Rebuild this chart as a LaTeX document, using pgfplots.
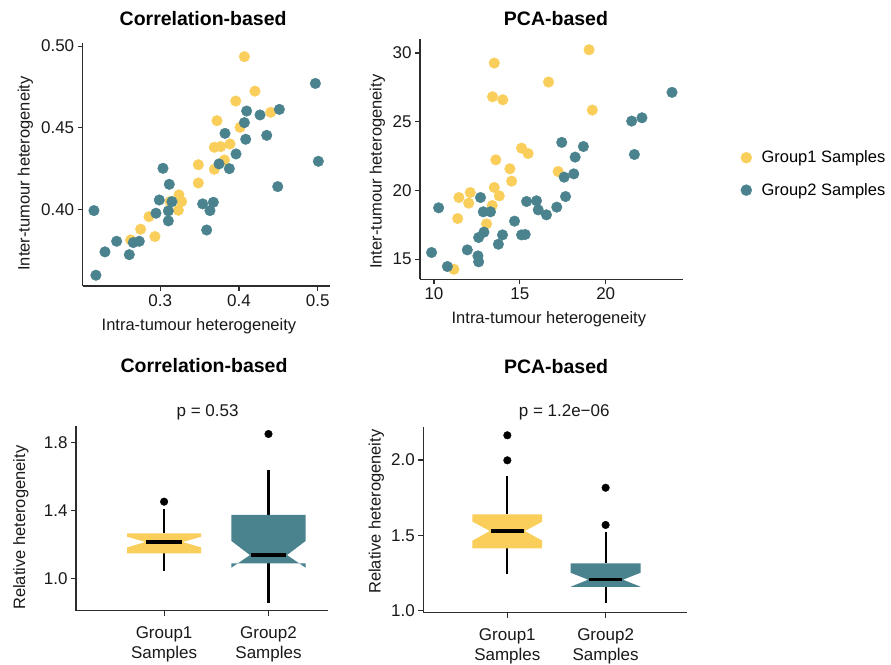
\documentclass[border=0pt]{standalone}
\usepackage{fontspec}
\setmainfont{Liberation Sans}
\usepackage{pgfplots}
\usepackage{pgfplotstable}
\pgfplotsset{compat=1.18}

\definecolor{gyel}{RGB}{250,206,90}
\definecolor{gteal}{RGB}{74,130,142}
\definecolor{axgray}{RGB}{45,45,45}

\pgfplotstableread{
x y
0.4068 0.4935
0.4203 0.4724
0.3958 0.4663
0.4403 0.4594
0.3720 0.4543
0.4013 0.4502
0.3686 0.4380
0.3767 0.4384
0.3886 0.4400
0.3814 0.4302
0.3483 0.4273
0.3686 0.4245
0.3483 0.4161
0.3237 0.4088
0.3271 0.4047
0.3123 0.4047
0.3229 0.3994
0.2856 0.3955
0.2750 0.3878
0.2932 0.3833
0.2623 0.3812
}\corrA
\pgfplotstableread{
x y
0.4970 0.4771
0.5008 0.4294
0.4492 0.4139
0.4513 0.4612
0.4267 0.4578
0.4097 0.4602
0.4068 0.4531
0.4352 0.4453
0.4085 0.4429
0.3822 0.4465
0.3962 0.4339
0.3746 0.4278
0.3877 0.4249
0.3034 0.4251
0.3114 0.4153
0.2987 0.4057
0.3148 0.4047
0.3102 0.3990
0.2945 0.3976
0.3102 0.3929
0.3538 0.4033
0.3674 0.4043
0.3631 0.3992
0.3589 0.3873
0.2157 0.3992
0.2445 0.3804
0.2657 0.3796
0.2733 0.3804
0.2297 0.3739
0.2606 0.3722
0.2182 0.3596
}\corrB
\pgfplotstableread{
x y
19.03 30.24
13.51 29.27
16.67 27.89
13.41 26.82
14.01 26.60
19.22 25.85
15.10 23.08
15.48 22.69
13.60 22.23
14.42 21.58
17.23 21.38
14.52 20.68
13.51 20.22
13.80 19.61
12.11 19.85
11.45 19.49
12.02 19.08
13.39 18.91
11.38 17.96
13.06 17.57
11.16 14.27
}\pcaA
\pgfplotstableread{
x y
23.86 27.14
21.51 25.05
22.11 25.29
21.67 22.62
17.44 23.50
18.70 23.20
18.22 22.43
18.14 21.21
17.58 20.97
17.66 19.56
17.15 18.79
15.97 19.25
15.39 19.20
16.07 18.59
16.55 18.23
12.71 19.49
12.87 18.45
13.29 18.45
10.27 18.74
14.69 17.77
13.99 16.77
13.75 16.09
15.10 16.77
15.31 16.80
12.91 16.97
12.60 16.58
11.94 15.68
12.56 15.24
12.60 14.81
9.86 15.49
10.78 14.47
}\pcaB

\pgfplotsset{
  gg/.style={
    scale only axis,
    clip=false,
    axis x line*=bottom, axis y line*=left,
    axis line style={axgray, line width=1.1pt},
    tick align=outside,
    major tick length=5pt,
    tick style={axgray, line width=1.1pt},
    tick label style={font=\fontsize{17}{20}\selectfont, text=black!90},
    /pgf/number format/assume math mode=true,
    label style={font=\fontsize{16.5}{19}\selectfont, text=black!90},
    title style={font=\fontsize{19.5}{22}\selectfont\bfseries, anchor=center},
  },
  dots/.style={only marks, mark=*, mark size=5.3pt, mark options={draw=none}},
  whisk/.style={black, line width=2.2pt, no marks},
  med/.style={black, line width=3.2pt, no marks},
  outl/.style={only marks, mark=*, mark size=3.8pt, black},
}

\begin{document}
\begin{tikzpicture}
\useasboundingbox (0,0) rectangle (891pt,664pt);

% ---------- top left ----------
\begin{axis}[gg, at={(82.7pt,620.7pt)}, anchor=north west,
  width=247.3pt, height=242.7pt,
  xmin=0.2014, xmax=0.5156, ymin=0.353, ymax=0.5017,
  xtick={0.3,0.4,0.5}, ytick={0.40,0.45,0.50},
  xticklabel style={/pgf/number format/.cd, fixed, precision=1},
  yticklabel style={/pgf/number format/.cd, fixed, fixed zerofill, precision=2},
  title={Correlation-based},
  title style={at={(axis description cs:0.487,1)}, yshift=19pt},
  xlabel={Intra-tumour heterogeneity},
  xlabel style={at={(axis description cs:0.47,0)}, anchor=base, yshift=-45pt},
  ylabel={Inter-tumour heterogeneity},
  ylabel style={at={(axis description cs:-0.215,0.464)}, anchor=base},
]
\addplot[dots, color=gyel] table {\corrA};
\addplot[dots, color=gteal] table {\corrB};
\end{axis}

% ---------- top right ----------
\begin{axis}[gg, at={(420pt,624.7pt)}, anchor=north west,
  width=263pt, height=240pt,
  xmin=9.186, xmax=24.5, ymin=13.54, ymax=31.0,
  xtick={10,15,20}, ytick={15,20,25,30},
  title={PCA-based},
  title style={at={(axis description cs:0.517,1)}, yshift=14.5pt},
  xlabel={Intra-tumour heterogeneity},
  xlabel style={at={(axis description cs:0.49,0)}, anchor=base, yshift=-44pt},
  ylabel={Inter-tumour heterogeneity},
  ylabel style={at={(axis description cs:-0.146,0.448)}, anchor=base},
  legend style={draw=none, fill=none, font=\fontsize{16.5}{19}\selectfont,
    at={(axis description cs:1.205,0.439)}, anchor=west, row sep=15pt},
  legend cell align=left,
  legend image code/.code={\path (0pt,0pt) (19pt,0pt); \draw[#1, only marks, mark size=5.5pt] plot coordinates {(6pt,0pt)};},
]
\addplot[dots, color=gyel] table {\pcaA};
\addlegendentry{Group1 Samples}
\addplot[dots, color=gteal] table {\pcaB};
\addlegendentry{Group2 Samples}
\end{axis}

% ---------- bottom left ----------
\begin{axis}[gg, at={(76pt,238pt)}, anchor=north west,
  width=252pt, height=184.7pt,
  xmin=0.156, xmax=2.57, ymin=0.81, ymax=1.896,
  xtick={1,2}, xticklabels={{Group1\\Samples},{Group2\\Samples}},
  xticklabel style={align=center, yshift=-7pt},
  ytick={1.0,1.4,1.8},
  yticklabel style={/pgf/number format/.cd, fixed, fixed zerofill, precision=1},
  title={Correlation-based},
  title style={at={(axis description cs:0.508,1)}, yshift=54pt},
  ylabel={Relative heterogeneity},
  ylabel style={at={(axis description cs:-0.202,0.449)}, anchor=base},
]
% Group1
\addplot[whisk] coordinates {(1,1.265) (1,1.406)};
\addplot[whisk] coordinates {(1,1.147) (1,1.045)};
\addplot[fill=gyel, draw=none] coordinates {(0.645,1.147) (0.645,1.182) (0.8225,1.214) (0.645,1.245) (0.645,1.265) (1.355,1.265) (1.355,1.245) (1.1775,1.214) (1.355,1.182) (1.355,1.147)} --cycle;
\addplot[med] coordinates {(0.83,1.214) (1.17,1.214)};
\addplot[outl] coordinates {(1,1.451)};
% Group2
\addplot[whisk] coordinates {(2,1.373) (2,1.637)};
\addplot[whisk] coordinates {(2,1.088) (2,0.857)};
\addplot[fill=gteal, draw=none] coordinates {(1.645,1.088) (1.645,1.063) (1.8225,1.137) (1.645,1.220) (1.645,1.373) (2.355,1.373) (2.355,1.220) (2.1775,1.137) (2.355,1.063) (2.355,1.088)} --cycle;
\addplot[med] coordinates {(1.83,1.137) (2.17,1.137)};
\addplot[outl] coordinates {(2,1.849)};
\node[anchor=base, yshift=9pt, font=\fontsize{17}{20}\selectfont, text=black!90] at (axis description cs:0.522,1) {p = 0.53};
\end{axis}

% ---------- bottom right ----------
\begin{axis}[gg, at={(423.3pt,236.7pt)}, anchor=north west,
  width=263.4pt, height=185.4pt,
  xmin=0.145, xmax=2.825, ymin=0.987, ymax=2.217,
  xtick={1,2}, xticklabels={{Group1\\Samples},{Group2\\Samples}},
  xticklabel style={align=center, yshift=-7pt},
  ytick={1.0,1.5,2.0},
  yticklabel style={/pgf/number format/.cd, fixed, fixed zerofill, precision=1},
  title={PCA-based},
  title style={at={(axis description cs:0.504,1)}, yshift=55pt},
  ylabel={Relative heterogeneity},
  ylabel style={at={(axis description cs:-0.1625,0.545)}, anchor=base},
]
% Group1
\addplot[whisk] coordinates {(1,1.639) (1,1.894)};
\addplot[whisk] coordinates {(1,1.414) (1,1.241)};
\addplot[fill=gyel, draw=none] coordinates {(0.645,1.414) (0.645,1.465) (0.8225,1.529) (0.645,1.591) (0.645,1.639) (1.355,1.639) (1.355,1.591) (1.1775,1.529) (1.355,1.465) (1.355,1.414)} --cycle;
\addplot[med] coordinates {(0.83,1.529) (1.17,1.529)};
\addplot[outl] coordinates {(1,2.164) (1,1.998)};
% Group2
\addplot[whisk] coordinates {(2,1.314) (2,1.524)};
\addplot[whisk] coordinates {(2,1.159) (2,1.049)};
\addplot[fill=gteal, draw=none] coordinates {(1.645,1.159) (1.645,1.159) (1.8225,1.206) (1.645,1.252) (1.645,1.314) (2.355,1.314) (2.355,1.252) (2.1775,1.206) (2.355,1.159) (2.355,1.159)} --cycle;
\addplot[med] coordinates {(1.83,1.206) (2.17,1.206)};
\addplot[outl] coordinates {(2,1.816) (2,1.569)};
\node[anchor=base, yshift=10.3pt, font=\fontsize{17}{20}\selectfont, text=black!90] at (axis description cs:0.535,1) {p = 1.2e−06};
\end{axis}
\end{tikzpicture}
\end{document}
